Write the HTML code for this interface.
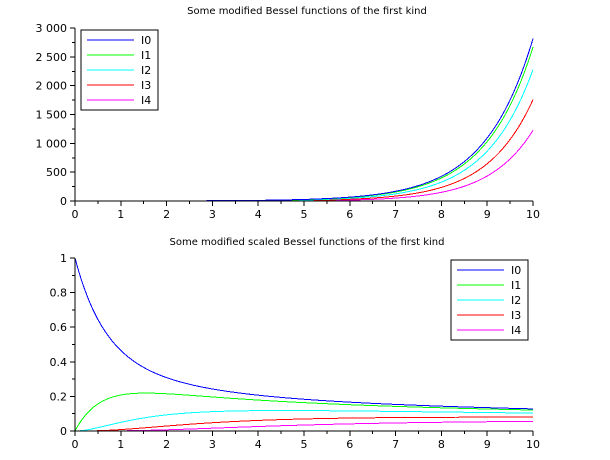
<!DOCTYPE html>
<html><head><meta charset="utf-8"><style>
body{margin:0;background:#fff;}
svg{display:block;font-family:"DejaVu Sans","Liberation Sans",sans-serif;}
</style></head><body>
<svg id="s" width="610" height="460" xmlns="http://www.w3.org/2000/svg" shape-rendering="crispEdges"></svg>
<script>
function I(n,x){let s=0,t=Math.pow(x/2,n);let f=1;for(let k=1;k<=n;k++)f*=k;t/=f;for(let k=0;k<200;k++){s+=t;t*=(x*x/4)/((k+1)*(k+1+n));if(t<1e-16*s)break;}return s;}
const cols=['#0000ff','#00ff00','#00ffff','#ff0000','#ff00ff'];
let h='';
function axes(x0,x1,y0,y1,ymax,yticks,ylab,title,ty){
 h+=`<text x="${(x0+x1)/2+3}" y="${ty}" font-size="10" text-anchor="middle">${title}</text>`;
 h+=`<line x1="${x0}" y1="${y0}" x2="${x0}" y2="${y1}" stroke="#000"/><line x1="${x0}" y1="${y0}" x2="${x1}" y2="${y0}" stroke="#000"/>`;
 for(let i=0;i<=20;i++){let x=x0+(x1-x0)*i/20;h+=`<line x1="${x}" y1="${y0}" x2="${x}" y2="${y0+(i%2?3:5)}" stroke="#000"/>`;
  if(i%2==0)h+=`<text x="${x}" y="${y0+17}" font-size="11" text-anchor="middle">${i/2}</text>`;}
 for(let i=0;i<yticks.length;i++){let v=yticks[i];let y=y0-(y0-y1)*v/ymax;h+=`<line x1="${x0-5}" y1="${y}" x2="${x0}" y2="${y}" stroke="#000"/><text x="${x0-8}" y="${y+4}" font-size="11" text-anchor="end">${ylab[i]}</text>`;
  if(i<yticks.length-1){let ym=y0-(y0-y1)*(v+(yticks[1]-yticks[0])/2)/ymax;h+=`<line x1="${x0-3}" y1="${ym}" x2="${x0}" y2="${ym}" stroke="#000"/>`;}}
}
function curves(x0,x1,y0,y1,ymax,sc){
 for(let n=4;n>=0;n--){let p='';for(let i=0;i<=460;i++){let x=10*i/460;let v=I(n,x);if(sc)v*=Math.exp(-x);let px=x0+(x1-x0)*x/10,py=y0-(y0-y1)*v/ymax;p+=(i?'L':'M')+px.toFixed(2)+','+py.toFixed(2);}
 h+=`<path d="${p}" fill="none" stroke="${cols[n]}" stroke-width="1"/>`;}
}
function legend(x,y){h+=`<rect x="${x}" y="${y}" width="77" height="80" fill="#fff" stroke="#000"/>`;
 for(let n=0;n<5;n++){let yy=y+10+n*15;h+=`<line x1="${x+6}" y1="${yy}" x2="${x+53}" y2="${yy}" stroke="${cols[n]}"/><text x="${x+60}" y="${yy+4}" font-size="11">I${n}</text>`;}}
curves(75,533,201,28,3000,false);
axes(75,533,201,28,3000,[0,500,1000,1500,2000,2500,3000],['0','500','1 000','1 500','2 000','2 500','3 000'],'Some modified Bessel functions of the first kind',14);
legend(81,30);
curves(75,533,431,258,1,true);
axes(75,533,431,258,1,[0,0.2,0.4,0.6,0.8,1],['0','0.2','0.4','0.6','0.8','1'],'Some modified scaled Bessel functions of the first kind',245);
legend(451,260);
document.getElementById('s').innerHTML=h;
</script>
</body></html>
